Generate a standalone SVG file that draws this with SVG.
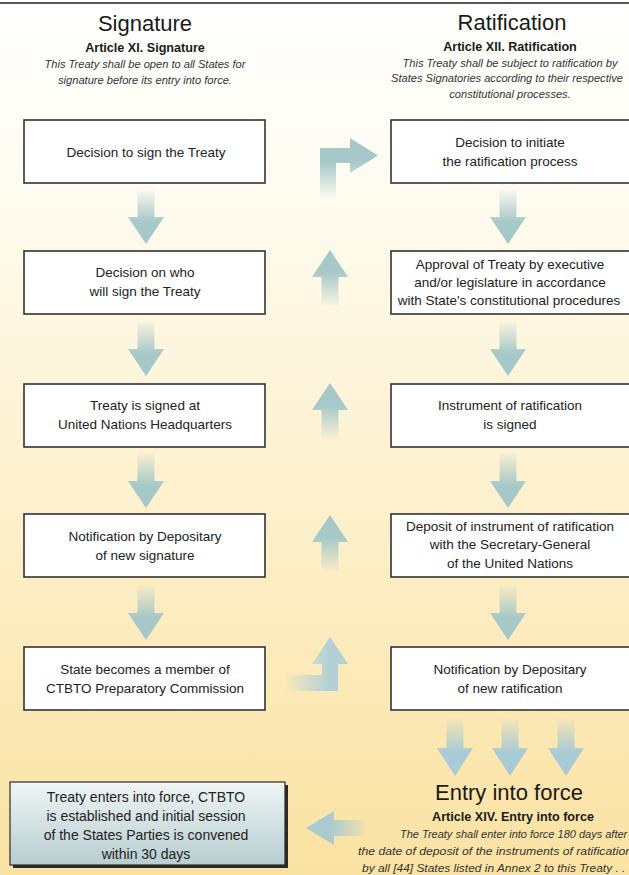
<svg xmlns="http://www.w3.org/2000/svg" width="629" height="875" viewBox="0 0 629 875">
<defs>
<linearGradient id="bg" x1="0" y1="0" x2="0" y2="1">
<stop offset="0" stop-color="#ffffff"/>
<stop offset="0.2" stop-color="#fefcf2"/>
<stop offset="0.55" stop-color="#fdf1cf"/>
<stop offset="1" stop-color="#fae2a2"/>
</linearGradient>
<linearGradient id="gDown" x1="0" y1="0" x2="0" y2="1">
<stop offset="0" stop-color="#a6c8c8" stop-opacity="0.05"/>
<stop offset="0.6" stop-color="#a6c8c8"/>
<stop offset="1" stop-color="#a6c8c8"/>
</linearGradient>
<linearGradient id="gDownB" x1="0" y1="0" x2="0" y2="1">
<stop offset="0" stop-color="#a9cbd6" stop-opacity="0.05"/>
<stop offset="0.6" stop-color="#a9cbd6"/>
<stop offset="1" stop-color="#a9cbd6"/>
</linearGradient>
<linearGradient id="gUp" x1="0" y1="1" x2="0" y2="0">
<stop offset="0" stop-color="#a6c8c8" stop-opacity="0.05"/>
<stop offset="0.6" stop-color="#a6c8c8"/>
<stop offset="1" stop-color="#a6c8c8"/>
</linearGradient>
<linearGradient id="gLeftTail" x1="0" y1="0" x2="1" y2="0">
<stop offset="0" stop-color="#b3d0d6" stop-opacity="0.05"/>
<stop offset="0.7" stop-color="#b3d0d6"/>
<stop offset="1" stop-color="#b3d0d6"/>
</linearGradient>
<linearGradient id="gRightTail" x1="1" y1="0" x2="0" y2="0">
<stop offset="0" stop-color="#a9cbd0" stop-opacity="0.05"/>
<stop offset="0.6" stop-color="#a9cbd0"/>
<stop offset="1" stop-color="#a9cbd0"/>
</linearGradient>
<linearGradient id="gFinal" x1="0" y1="0" x2="0" y2="1">
<stop offset="0" stop-color="#f0f5f5"/>
<stop offset="1" stop-color="#b7cdcf"/>
</linearGradient>
<style>
.box{fill:#ffffff;stroke:#333333;stroke-width:1.6}
.t{font-family:"Liberation Sans",Arial,sans-serif;font-size:13.5px;fill:#222222;text-anchor:middle}
.h{font-family:"Liberation Sans",Arial,sans-serif;font-size:22px;fill:#1a1a1a;text-anchor:middle}
.a{font-family:"Liberation Sans",Arial,sans-serif;font-size:12.6px;font-weight:bold;fill:#1a1a1a;text-anchor:middle}
.i{font-family:"Liberation Sans",Arial,sans-serif;font-size:11.1px;font-style:italic;fill:#333333;text-anchor:middle}
.ib{font-family:"Liberation Sans",Arial,sans-serif;font-size:11px;font-style:italic;fill:#333333}
.f{font-size:14px}
</style>
</defs>
<rect x="0" y="0" width="629" height="875" fill="url(#bg)"/>
<line x1="0" y1="3" x2="629" y2="3" stroke="#222222" stroke-width="1.5"/>

<g id="header-signature">
<text class="h" x="145" y="31">Signature</text>
<text class="a" x="145" y="52">Article XI. Signature</text>
<text class="i" x="145" y="68">This Treaty shall be open to all States for</text>
<text class="i" x="145" y="84">signature before its entry into force.</text>
</g>
<g id="header-ratification">
<text class="h" x="512" y="30">Ratification</text>
<text class="a" x="510" y="51">Article XII. Ratification</text>
<text class="i" x="510" y="67">This Treaty shall be subject to ratification by</text>
<text class="i" x="507" y="82">States Signatories according to their respective</text>
<text class="i" x="510" y="98">constitutional processes.</text>
</g>

<g id="connectors">
<path fill="url(#gDown)" d="M137.5,190H154.5V217H164L146,244L128,217H137.5Z"/>
<path fill="url(#gDown)" d="M137.5,321H154.5V349H164L146,376L128,349H137.5Z"/>
<path fill="url(#gDown)" d="M137.5,453H154.5V481H164L146,508L128,481H137.5Z"/>
<path fill="url(#gDown)" d="M137.5,585H154.5V613H164L146,640L128,613H137.5Z"/>
<path fill="url(#gDown)" d="M499.5,190H516.5V217H526L508,244L490,217H499.5Z"/>
<path fill="url(#gDown)" d="M499.5,321H516.5V349H526L508,376L490,349H499.5Z"/>
<path fill="url(#gDown)" d="M499.5,453H516.5V481H526L508,508L490,481H499.5Z"/>
<path fill="url(#gDown)" d="M499.5,585H516.5V613H526L508,640L490,613H499.5Z"/>
<path fill="url(#gUp)" d="M330,250L348,277H338.5V306H321.5V277H312Z"/>
<path fill="url(#gUp)" d="M330,383L348,410H338.5V439H321.5V410H312Z"/>
<path fill="url(#gUp)" d="M330,515L348,542H338.5V571H321.5V542H312Z"/>
<path fill="url(#gUp)" d="M320,197V148H350V138L378,155.5L350,173V163H336V197Z"/>
<path fill="url(#gLeftTail)" d="M286,675H322V664H312L330,637L348,664H338V691H286Z"/>
<path fill="url(#gDownB)" d="M446.5,718H463.5V748H473L455,776L437,748H446.5Z"/>
<path fill="url(#gDownB)" d="M501.5,718H518.5V748H528L510,776L492,748H501.5Z"/>
<path fill="url(#gDownB)" d="M557.5,718H574.5V748H584L566,776L548,748H557.5Z"/>
<path fill="url(#gRightTail)" d="M367,820V836H334V845L306,828L334,811V820Z"/>
</g>

<g id="s1"><rect class="box" x="24" y="120" width="241" height="63"/><text class="t" x="146" y="157">Decision to sign the Treaty</text></g>
<g id="s2"><rect class="box" x="24" y="251" width="241" height="63"/><text class="t" x="145" y="277">Decision on who</text><text class="t" x="145" y="296">will sign the Treaty</text></g>
<g id="s3"><rect class="box" x="24" y="384" width="241" height="63"/><text class="t" x="145" y="410">Treaty is signed at</text><text class="t" x="145" y="429">United Nations Headquarters</text></g>
<g id="s4"><rect class="box" x="24" y="514" width="241" height="63"/><text class="t" x="145" y="541">Notification by Depositary</text><text class="t" x="145" y="560">of new signature</text></g>
<g id="s5"><rect class="box" x="24" y="647" width="241" height="63"/><text class="t" x="145" y="674">State becomes a member of</text><text class="t" x="145" y="693">CTBTO Preparatory Commission</text></g>

<g id="r1"><rect class="box" x="391" y="120" width="240" height="63"/><text class="t" x="510" y="147">Decision to initiate</text><text class="t" x="510" y="166">the ratification process</text></g>
<g id="r2"><rect class="box" x="391" y="251" width="240" height="63"/><text class="t" x="510" y="269">Approval of Treaty by executive</text><text class="t" x="510" y="287">and/or legislature in accordance</text><text class="t" x="509" y="305">with State's constitutional procedures</text></g>
<g id="r3"><rect class="box" x="391" y="384" width="240" height="63"/><text class="t" x="510" y="410">Instrument of ratification</text><text class="t" x="510" y="429">is signed</text></g>
<g id="r4"><rect class="box" x="391" y="514" width="240" height="63"/><text class="t" x="510" y="531">Deposit of instrument of ratification</text><text class="t" x="510" y="549">with the Secretary-General</text><text class="t" x="510" y="568">of the United Nations</text></g>
<g id="r5"><rect class="box" x="391" y="647" width="240" height="63"/><text class="t" x="510" y="674">Notification by Depositary</text><text class="t" x="510" y="693">of new ratification</text></g>

<g id="entry">
<text class="h" x="509" y="800">Entry into force</text>
<text class="a" x="513" y="821">Article XIV. Entry into force</text>
<text class="ib" x="400" y="838">The Treaty shall enter into force 180 days after</text>
<text class="ib" x="358" y="855" textLength="274" lengthAdjust="spacingAndGlyphs">the date of deposit of the instruments of ratification</text>
<text class="ib" x="362" y="872" textLength="270" lengthAdjust="spacingAndGlyphs">by all [44] States listed in Annex 2 to this Treaty . . .</text>
</g>

<g id="final">
<rect x="13" y="785" width="275" height="83" fill="#2a2a2a"/>
<rect x="10" y="782" width="275" height="83" fill="url(#gFinal)" stroke="#2a2a2a" stroke-width="1.2"/>
<text class="t f" x="146" y="802">Treaty enters into force, CTBTO</text>
<text class="t f" x="146" y="821">is established and initial session</text>
<text class="t f" x="146" y="840">of the States Parties is convened</text>
<text class="t f" x="146" y="859">within 30 days</text>
</g>
</svg>
